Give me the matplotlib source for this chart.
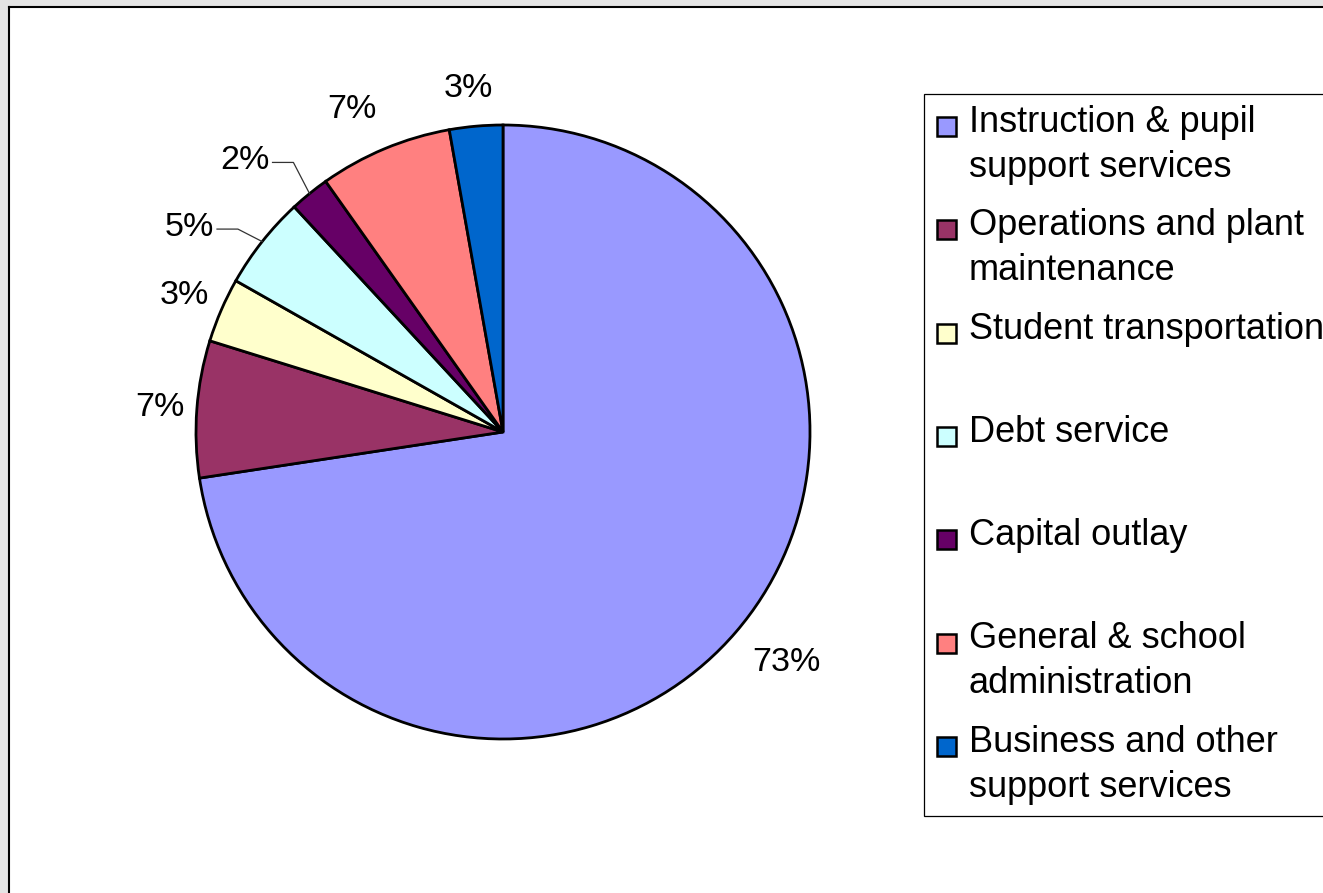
import numpy as np
import matplotlib
matplotlib.use("Agg")
import matplotlib.pyplot as plt
from matplotlib.patches import Rectangle
from matplotlib.lines import Line2D

plt.rcParams['font.family'] = ['Liberation Sans', 'DejaVu Sans']

categories = ["Instruction & pupil\nsupport services",
              "Operations and plant\nmaintenance",
              "Student transportation",
              "Debt service",
              "Capital outlay",
              "General & school\nadministration",
              "Business and other\nsupport services"]
values = [72.6, 7.2, 3.4, 4.9, 2.1, 7.0, 2.8]
colors = ["#9999FF", "#993366", "#FFFFCC", "#CCFFFF", "#660066", "#FF8080", "#0066CC"]

W, H = 1323, 893
fig = plt.figure(figsize=(W / 100, H / 100), dpi=100)

# background strips (spreadsheet frame) and chart border
fig.patches.append(Rectangle((0, 0), 8 / W, 1, transform=fig.transFigure,
                             facecolor="#e4e4e4", edgecolor="none", zorder=0))
fig.patches.append(Rectangle((0, 1 - 6 / H), 1, 6 / H, transform=fig.transFigure,
                             facecolor="#e4e4e4", edgecolor="none", zorder=0))
fig.lines.append(Line2D([8.5 / W, 8.5 / W], [0, 1 - 6.5 / H], transform=fig.transFigure,
                        color="black", lw=1.5))
fig.lines.append(Line2D([8.5 / W, 1], [1 - 6.5 / H, 1 - 6.5 / H], transform=fig.transFigure,
                        color="black", lw=1.5))

# pie axes: center at (503, 432) px, radius 307 px
R = 307.0
cx, cy = 503.0, 432.0
lim = 1.4
side = 2 * lim * R
ax = fig.add_axes([(cx - lim * R) / W, (H - cy - lim * R) / H, side / W, side / H])
wedges, _ = ax.pie(values, colors=colors, startangle=90, counterclock=False,
                   radius=1.0, wedgeprops=dict(edgecolor="black", linewidth=2.0))
ax.set_xlim(-lim, lim)
ax.set_ylim(-lim, lim)
ax.set_aspect("equal")
ax.axis("off")

# percentage labels
total = sum(values)
label_dist = [1.19, 1.12, 1.13, 1.22, 1.22, 1.16, 1.125]
label_shift = [1.6, 0.3, 0.2, 5.2, 4.5, 2.4, 0.75]
leader = [False, False, False, True, True, False, False]
for w, v, d, s, ld in zip(wedges, values, label_dist, label_shift, leader):
    mid = np.deg2rad((w.theta1 + w.theta2) / 2)
    ang = mid + np.deg2rad(s)
    lx, ly = d * np.cos(ang), d * np.sin(ang)
    txt = f"{round(100 * v / total)}%"
    ax.text(lx, ly, txt, ha="center", va="center", fontsize=24.5, color="black")
    if ld:
        ex, ey = np.cos(mid), np.sin(mid)
        x0 = lx + 0.09
        x1 = x0 + 0.068
        ax.plot([x0, x1, ex], [ly - 0.006, ly - 0.006, ey], color="#333333", lw=0.9)

# legend drawn as a box
lx0, ly0 = 923.5, 93.5
fig.patches.append(Rectangle((lx0 / W, 1 - 815.5 / H), (W + 10 - lx0) / W, (815.5 - ly0) / H,
                             transform=fig.transFigure, facecolor="white",
                             edgecolor="black", lw=0.9, zorder=1))
first_y = 122.0
pitch = 103.3
for i, (c, lab) in enumerate(zip(colors, categories)):
    yc = first_y + i * pitch
    fig.patches.append(Rectangle((937 / W, 1 - (yc + 14) / H), 19 / W, 19 / H,
                                 transform=fig.transFigure, facecolor=c,
                                 edgecolor="black", lw=1.8, zorder=2))
    fig.text(969 / W, 1 - (yc - 17) / H, lab, ha="left", va="top", fontsize=26,
             linespacing=1.36, zorder=3)

fig.savefig("out.png", dpi=100)
